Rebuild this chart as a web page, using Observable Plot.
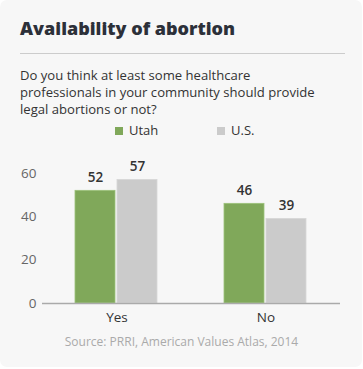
<!DOCTYPE html>
<html>
<head>
<meta charset="utf-8">
<script src="https://cdn.jsdelivr.net/npm/d3@7"></script>
<script src="https://cdn.jsdelivr.net/npm/@observablehq/plot@0.6"></script>
<style>
  html, body { margin: 0; padding: 0; background: #ffffff; }
  body { width: 363px; height: 369px; position: relative; overflow: hidden; font-family: "Open Sans", sans-serif; }
  #card { position: absolute; left: 0; top: 0; width: 362px; height: 367px; background: #f7f7f7; border-radius: 7px; }
  #title { position: absolute; left: 20px; top: 16px; font-size: 18px; font-weight: 800; color: #2c3039; white-space: nowrap; }
  #rule { position: absolute; left: 20px; top: 53px; width: 325px; height: 1px; background: #cccccc; }
  #subtitle { position: absolute; left: 20px; top: 67px; font-size: 13.1px; line-height: 17px; color: #333333; white-space: nowrap; }
  .leg { position: absolute; top: 121px; font-size: 13px; color: #333333; white-space: nowrap; line-height: 18px; }
  .sw { display: inline-block; width: 8px; height: 8px; margin-right: 6px; vertical-align: 0px; }
  #chart { position: absolute; left: 0; top: 145px; }
  #source { position: absolute; left: 0; width: 363px; top: 333px; text-align: center; font-size: 12px; color: #aaaaaa; white-space: nowrap; }
</style>
</head>
<body>
<div id="card"></div>
<div id="title"></div>
<div id="rule"></div>
<div id="subtitle"></div>
<div id="legend"></div>
<div id="chart"></div>
<div id="source"></div>
<script>
const titleText = "Availability of abortion";
const subtitleLines = ["Do you think at least some healthcare", "professionals in your community should provide", "legal abortions or not?"];
const sourceText = "Source: PRRI, American Values Atlas, 2014";
const answers = ["Yes", "No"];
const seriesNames = ["Utah", "U.S."];
const utahValues = [52, 46];
const usValues = [57, 39];
const seriesColors = ["#80a85a", "#cbcbcb"];
const yTicks = [0, 20, 40, 60];

document.getElementById("title").textContent = titleText;
document.getElementById("subtitle").innerHTML = subtitleLines.join("<br>");
document.getElementById("source").textContent = sourceText;

const legendPos = [115, 217];
const legend = document.getElementById("legend");
seriesNames.forEach((s, i) => {
  const d = document.createElement("div");
  d.className = "leg";
  d.style.left = legendPos[i] + "px";
  d.innerHTML = `<span class="sw" style="background:${seriesColors[i]}"></span>${s}`;
  legend.appendChild(d);
});

const data = [];
answers.forEach((a, i) => {
  data.push({answer: a, series: "Utah", value: utahValues[i]});
  data.push({answer: a, series: "U.S.", value: usValues[i]});
});

const chart = Plot.plot({
  width: 363,
  height: 180,
  marginLeft: 41,
  marginRight: 23,
  marginTop: 28,
  marginBottom: 22,
  style: {background: "transparent", fontFamily: "Open Sans, sans-serif", fontSize: "13px", overflow: "visible"},
  fx: {domain: answers, padding: 0, label: null},
  x: {domain: seriesNames, paddingInner: 0.0465, paddingOuter: 0.756, axis: null},
  y: {domain: [0, 60], axis: null},
  color: {domain: seriesNames, range: seriesColors},
  marks: [
    Plot.barY(data, {fx: "answer", x: "series", y: "value", fill: "series", stroke: d => d.series === "Utah" ? "#9cc27a" : "#d6d6d6", strokeWidth: 0.8}),
    Plot.ruleY([0], {stroke: "#aaaaaa", strokeWidth: 1.5}),
    Plot.text(data, {fx: "answer", x: "series", y: "value", text: d => String(d.value), dy: -13, fill: "#333333", fontWeight: 600, fontSize: 13.5}),
    Plot.axisY({ticks: yTicks, tickSize: 0, tickPadding: 6, fill: "#666666", label: null, fontSize: 13.5}),
    Plot.axisFx({anchor: "bottom", tickSize: 0, tickPadding: 9, fill: "#333333", label: null, fontSize: 13.5})
  ]
});
document.getElementById("chart").appendChild(chart);
</script>
</body>
</html>
